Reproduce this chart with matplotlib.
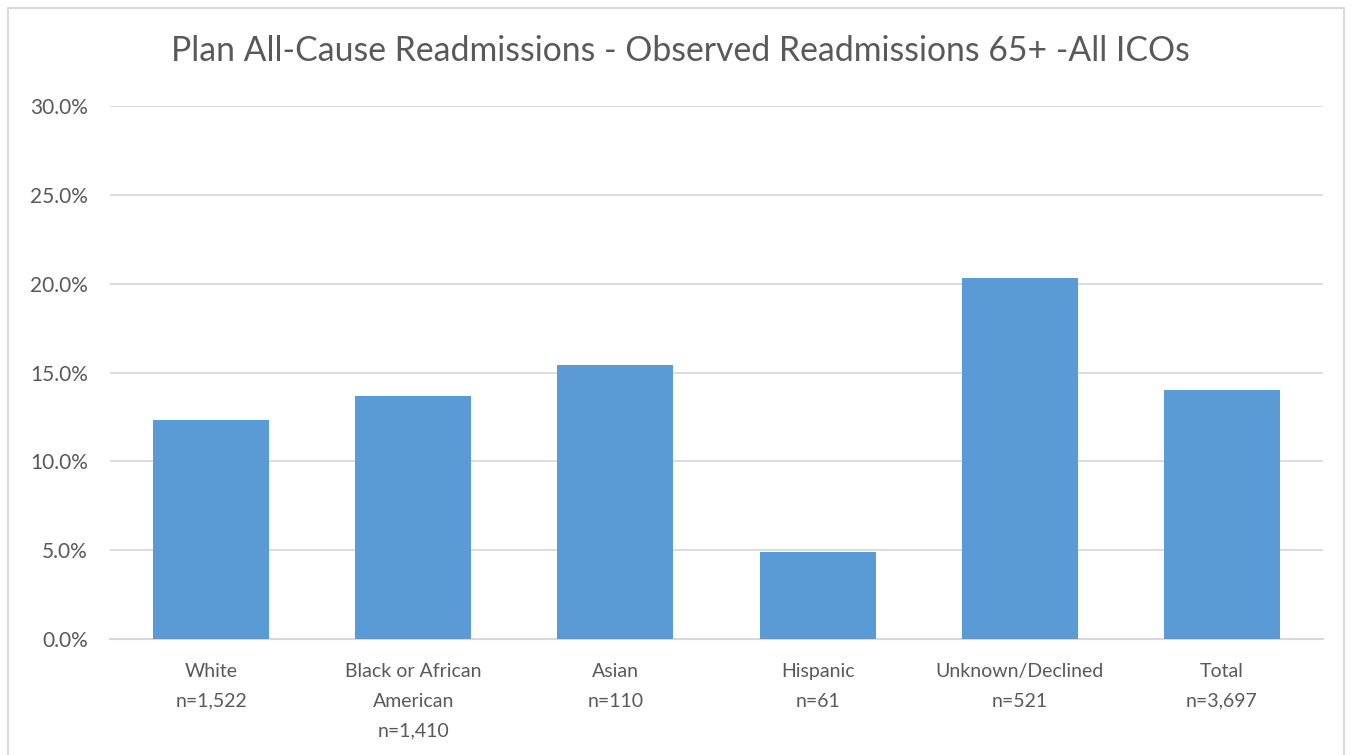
import matplotlib.pyplot as plt
from matplotlib.patches import Rectangle
from matplotlib.ticker import FuncFormatter

# Observed readmission rates (65+) by race/ethnicity
groups = ['White', 'Black or African\nAmerican', 'Asian', 'Hispanic', 'Unknown/Declined', 'Total']
counts = ['n=1,522', 'n=1,410', 'n=110', 'n=61', 'n=521', 'n=3,697']
rates = [12.3, 13.7, 15.4, 4.9, 20.3, 14.0]

plt.rcParams['font.family'] = ['Lato', 'DejaVu Sans']
text_grey = '#595959'
grid_grey = '#d9d9d9'

fig = plt.figure(figsize=(13.56, 7.55), dpi=100)

# chart border
fig.patches.append(Rectangle((8 / 1356, -0.05), 1336 / 1356, 1 - 8 / 755 + 0.05,
                             transform=fig.transFigure, fill=False,
                             edgecolor=grid_grey, linewidth=1.5))

ax = fig.add_axes([0.0811, 0.1536, 0.8946, 0.706])
x = range(len(groups))
ax.bar(x, rates, width=0.574, color='#5b9bd5', zorder=3)

ax.set_xlim(-0.5, len(groups) - 0.5)
ax.set_ylim(0, 30)
ax.set_yticks([0, 5, 10, 15, 20, 25, 30])
ax.yaxis.set_major_formatter(FuncFormatter(lambda v, p: f'{v:.1f}%'))
ax.set_xticks(list(x))
ax.set_xticklabels([f'{g}\n{c}' for g, c in zip(groups, counts)], linespacing=1.92)

ax.grid(axis='y', color=grid_grey, linewidth=1.3, zorder=0)
for side in ['top', 'right', 'left']:
    ax.spines[side].set_visible(False)
ax.spines['bottom'].set_color(grid_grey)
ax.spines['bottom'].set_linewidth(1.5)
ax.tick_params(axis='both', length=0, labelcolor=text_grey)
ax.tick_params(axis='x', labelsize=14, pad=17)
ax.tick_params(axis='y', labelsize=15, pad=16)

fig.text(0.502, 0.932, 'Plan All-Cause Readmissions - Observed Readmissions 65+ -All ICOs',
         ha='center', va='center', fontsize=24.3, color=text_grey)

fig.savefig('out.png', dpi=100)
